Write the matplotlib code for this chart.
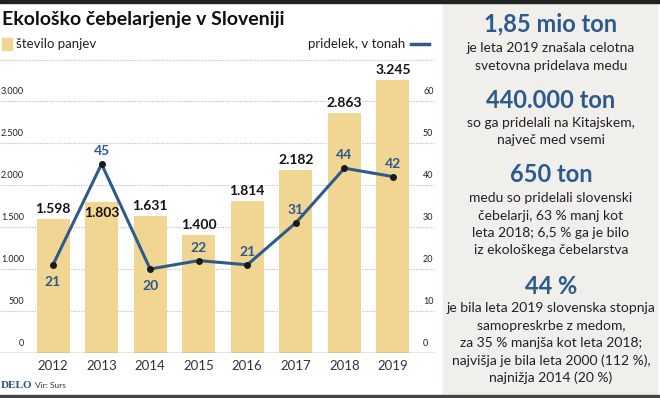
import matplotlib
matplotlib.use("Agg")
import matplotlib.pyplot as plt
from matplotlib.patches import Rectangle

# ---- data ----
years = ["2012", "2013", "2014", "2015", "2016", "2017", "2018", "2019"]
hives = [1598, 1803, 1631, 1400, 1814, 2182, 2863, 3245]
production = [21, 45, 20, 22, 21, 31, 44, 42]
hive_labels = ["1.598", "1.803", "1.631", "1.400", "1.814", "2.182", "2.863", "3.245"]
left_ticks = [0, 500, 1000, 1500, 2000, 2500, 3000]
left_tick_labels = ["0", "500", "1.000", "1.500", "2.000", "2.500", "3.000"]
right_ticks = [0, 10, 20, 30, 40, 50, 60]
bar_label_pos = ["above", "in", "above", "above", "above", "above", "above", "above"]
line_label_pos = ["below", "above", "below", "above", "above", "above", "above", "above"]

title = "Ekološko čebelarjenje v Sloveniji"
legend_bar = "število panjev"
legend_line = "pridelek, v tonah"
source = "Vir: Surs"
side_blocks = [
    ("1,85 mio ton", ["je leta 2019 znašala celotna", "svetovna pridelava medu"]),
    ("440.000 ton", ["so ga pridelali na Kitajskem,", "največ med vsemi"]),
    ("650 ton", ["medu so pridelali slovenski", "čebelarji, 63 % manj kot",
                 "leta 2018; 6,5 % ga je bilo", "iz ekološkega čebelarstva"]),
    ("44 %", ["je bila leta 2019 slovenska stopnja", "samopreskrbe z medom,",
              "za 35 % manjša kot leta 2018;", "najvišja je bila leta 2000 (112 %),",
              "najnižja 2014 (20 %)"]),
]

# ---- style ----
W, H = 660, 398
BAR = "#f1d592"
BLUE = "#2d5b8c"
NUMBLUE = "#2c5a8c"
PANEL = "#f0efec"
FONT = "Lato"
TICKFONT = "Lato"

fig = plt.figure(figsize=(W / 100, H / 100), dpi=100)
fig.patch.set_facecolor("white")

def fx(x):
    return x / W

def fy(y):
    return 1 - y / H

ax_left, ax_right, ax_top, ax_bot = 0, 435, 60, 353
ax = fig.add_axes([fx(ax_left), fy(ax_bot), fx(ax_right - ax_left), (ax_bot - ax_top) / H])
ax.set_facecolor("none")
for s in ax.spines.values():
    s.set_visible(False)

px_per_500 = 42.0
ymax = (ax_bot - ax_top) / px_per_500 * 500
ax.set_ylim(0, ymax)
step = 48.57
x0 = 53
ax.set_xlim(-x0 / step, (ax_right - x0) / step)
xs = list(range(len(years)))

for t in left_ticks:
    ax.axhline(t, color="#bdbdbd", lw=0.8, ls=(0, (1, 1.2)), zorder=0)
ax.axhline(0, color="#8a8a8a", lw=1.0, zorder=3)

ax.bar(xs, hives, width=33 / step, color=BAR, zorder=1)

ax2 = ax.twinx()
ax2.set_ylim(0, ymax / 50)
for s in ax2.spines.values():
    s.set_visible(False)
ax2.plot(xs, production, color=BLUE, lw=2.2, zorder=4)
ax2.scatter(xs, production, s=16, color="#1a1a1a", zorder=5)

ax.set_xticks([])
ax.set_yticks([])
ax2.set_yticks([])

for t, lab in zip(left_ticks, left_tick_labels):
    ax.annotate(lab, (24 / 435, t), xycoords=("axes fraction", "data"),
                xytext=(0, 5), textcoords="offset pixels",
                ha="right", va="bottom", fontsize=6.5, family=TICKFONT, color="#222")
for t in right_ticks:
    ax2.annotate(str(t), (423 / 435, t), xycoords=("axes fraction", "data"),
                 xytext=(0, 5), textcoords="offset pixels",
                 ha="left", va="bottom", fontsize=6.5, family=TICKFONT, color="#222")

for i, y in enumerate(years):
    ax.annotate(y, (i, 0), xytext=(0, -13), textcoords="offset pixels",
                ha="center", va="center", fontsize=9.5, family=FONT, color="#333")

for i, (v, lab, pos) in enumerate(zip(hives, hive_labels, bar_label_pos)):
    off = 10 if pos == "above" else -11
    ax.annotate(lab, (i, v), xytext=(0, off), textcoords="offset pixels",
                ha="center", va="center", fontsize=10, fontweight="bold",
                family=FONT, color="#111", zorder=6)

for i, (v, pos) in enumerate(zip(production, line_label_pos)):
    off = 13 if pos == "above" else -17
    ax2.annotate(str(v), (i, v), xytext=(0, off), textcoords="offset pixels",
                 ha="center", va="center", fontsize=10, fontweight="bold",
                 family=FONT, color=NUMBLUE, zorder=6)

fig.text(fx(2), fy(19), title, fontsize=14, fontweight="bold", family=FONT,
         color="#111", ha="left", va="center")
fig.patches.append(Rectangle((fx(2), fy(50)), fx(10), 12 / H, transform=fig.transFigure,
                             color=BAR))
fig.text(fx(16), fy(44), legend_bar, fontsize=9.5, family=FONT, color="#222",
         ha="left", va="center")
fig.text(fx(405), fy(44), legend_line, fontsize=9.5, family=FONT, color="#222",
         ha="right", va="center")
fig.lines.append(plt.Line2D([fx(411), fx(429)], [fy(44), fy(44)], transform=fig.transFigure,
                            color=BLUE, lw=2.5))
fig.lines.append(plt.Line2D([0, fx(435)], [fy(60), fy(60)], transform=fig.transFigure,
                            color="#bdbdbd", lw=0.8, ls=(0, (1, 1.2))))

fig.text(fx(1), fy(385), "DELO", fontsize=8, fontweight="bold", family="Liberation Serif",
         color="#2c4f80", ha="left", va="center")
fig.text(fx(35), fy(385), source, fontsize=6, family=TICKFONT, color="#333",
         ha="left", va="center")

fig.patches.append(Rectangle((0, fy(3)), 1, 3 / H, transform=fig.transFigure, color="#222"))
fig.patches.append(Rectangle((0, 0), 1, 3 / H, transform=fig.transFigure, color="#444"))

fig.patches.append(Rectangle((fx(443), fy(395)), fx(214), 392 / H, transform=fig.transFigure,
                             color=PANEL, zorder=0))
cx = fx(551)
head_y = [24, 100, 175, 287]
body_start = [48, 123, 198, 308]
for (head, lines), hy, by in zip(side_blocks, head_y, body_start):
    fig.text(cx, fy(hy), head, fontsize=17, fontweight="bold", family=FONT,
             color=NUMBLUE, ha="center", va="center")
    for k, ln in enumerate(lines):
        fig.text(cx, fy(by + k * 17.5), ln, fontsize=10, family=FONT, color="#222",
                 ha="center", va="center")

fig.savefig("out.png", dpi=100)
